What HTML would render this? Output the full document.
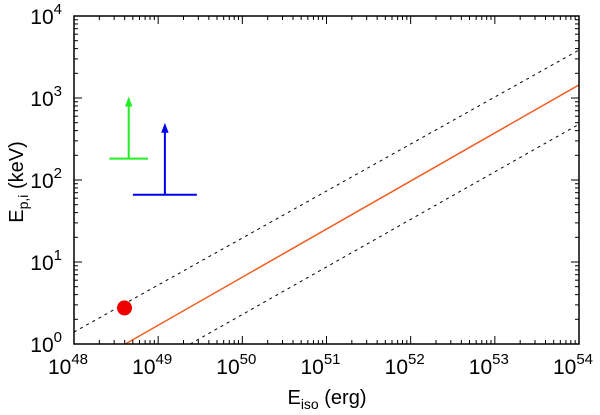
<!DOCTYPE html>
<html><head><meta charset="utf-8"><style>
body{margin:0;background:#fff;}
svg text{font-family:"Liberation Sans",sans-serif;fill:#000;}
</style></head><body>
<svg id="c" width="600" height="410" xmlns="http://www.w3.org/2000/svg"></svg>
<script>
const xDecades=[48,49,50,51,52,53,54];
const yDecades=[0,1,2,3,4];
// lines as [logE, logEp] endpoints
const relationLine=[[48.61,0],[54,3.16]];
const upperBound=[[48,0.146],[54,3.585]];
const lowerBound=[[49.38,0],[54,2.68]];
const pointLogE=[48.6];
const pointLogEp=[0.44];
const limitLogE=[48.65,49.08];
const limitLogEp=[2.26,1.82];
const limitTop=[3.0,2.68];
const limitHalf=[0.23,0.38];
const limitColors=["#22ee22","#0000ee"];

const L=74,R=579,T=16,B=344;
const sx=v=>L+(v-48)/6*(R-L);
const sy=v=>B-(v-0)/4*(B-T);
const svg=document.getElementById('c');
const NS="http://www.w3.org/2000/svg";
function mk(tag,attrs,parent){const e=document.createElementNS(NS,tag);for(const k in attrs)e.setAttribute(k,attrs[k]);(parent||svg).appendChild(e);return e;}

const defs=mk('defs',{});const cp=mk('clipPath',{id:'pc'},defs);mk('rect',{x:L,y:T,width:R-L,height:B-T},cp);

function drawLine(pts,stroke,dash,name){
 const e=mk('line',{x1:sx(pts[0][0]),y1:sy(pts[0][1]),x2:sx(pts[1][0]),y2:sy(pts[1][1]),stroke:stroke,'stroke-width':dash?1:1.5,'clip-path':'url(#pc)'});
 if(dash)e.setAttribute('stroke-dasharray',dash);
 
 
}
drawLine(upperBound,'#000','3,4','upper-bound-line');
drawLine(lowerBound,'#000','3,4','lower-bound-line');
drawLine(relationLine,'#f55a1e',null,'relation-line');

const ax=mk('g',{stroke:'#000','stroke-width':1});


for(let d=48;d<=54;d++){
 for(let m=1;m<10;m++){
  if(d===54&&m>1)break;
  const x=sx(d+Math.log10(m));const len=m===1?8:4;
  mk('line',{x1:x,y1:B,x2:x,y2:B-len},ax);mk('line',{x1:x,y1:T,x2:x,y2:T+len},ax);
 }
}
for(let d=0;d<=4;d++){
 for(let m=1;m<10;m++){
  if(d===4&&m>1)break;
  const y=sy(d+Math.log10(m));const len=m===1?8:4;
  mk('line',{x1:L,y1:y,x2:L+len,y2:y},ax);mk('line',{x1:R,y1:y,x2:R-len,y2:y},ax);
 }
}
const fr=mk('rect',{x:L,y:T,width:R-L,height:B-T,fill:'none',stroke:'#000','stroke-width':1.5});



limitLogE.forEach((e,i)=>{
 const g=mk('g',{stroke:limitColors[i],'stroke-width':2,fill:limitColors[i]});
 
 
 const x=sx(e),y=sy(limitLogEp[i]),yt=sy(limitTop[i]);
 mk('line',{x1:sx(e-limitHalf[i]),y1:y,x2:sx(e+limitHalf[i]),y2:y},g);
 mk('line',{x1:x,y1:y,x2:x,y2:yt+6},g);
 mk('polygon',{points:`${x-3},${yt+8} ${x},${yt} ${x+3},${yt+8}`,'stroke-width':1},g);
});
pointLogE.forEach((e,i)=>{
 const c=mk('circle',{cx:sx(e),cy:sy(pointLogEp[i]),r:7.5,fill:'#ee0000'});
 
 
});

xDecades.forEach(d=>{
 const t=mk('text',{x:sx(d)-6,y:374,'font-size':21,'text-anchor':'middle'});
 t.innerHTML='10<tspan dy="-10" font-size="15">'+d+'</tspan>';
 
 
});
yDecades.forEach(d=>{
 const t=mk('text',{x:62,y:sy(d)+8,'font-size':21,'text-anchor':'end'});
 t.innerHTML='10<tspan dy="-10" font-size="15">'+d+'</tspan>';
 
 
});
const xt=mk('text',{x:327,y:404,'font-size':20,'text-anchor':'middle'});
xt.innerHTML='E<tspan dy="5" font-size="14">iso</tspan><tspan dy="-5"> (erg)</tspan>';


const yt=mk('text',{x:0,y:0,'font-size':20,'text-anchor':'middle',transform:'translate(23,182) rotate(-90)'});
yt.innerHTML='E<tspan dy="5" font-size="14">p,i</tspan><tspan dy="-5"> (keV)</tspan>';


</script>
</body></html>
